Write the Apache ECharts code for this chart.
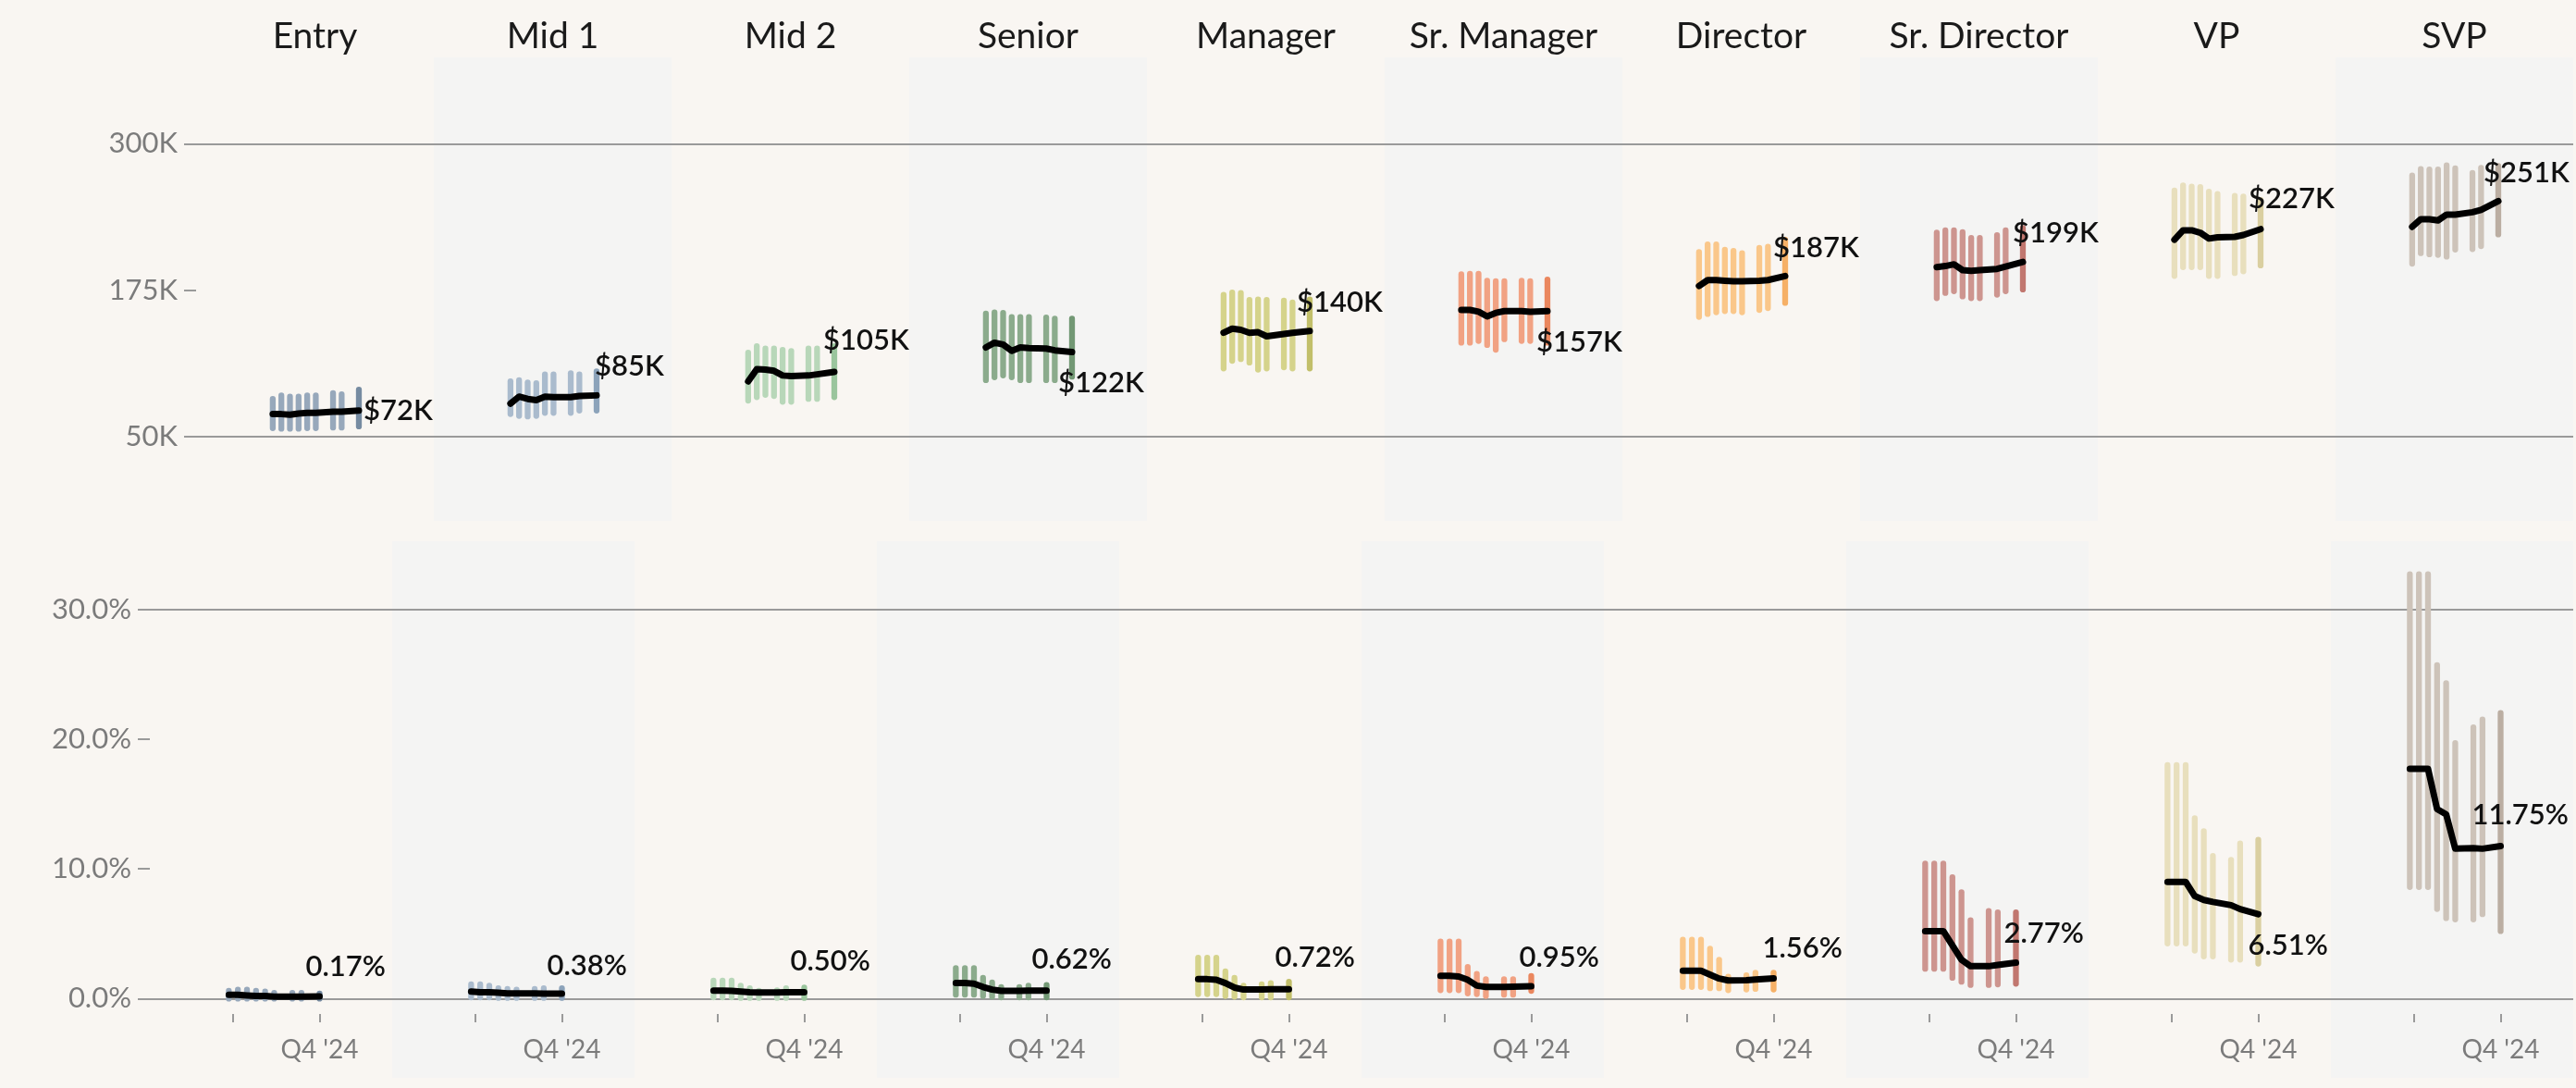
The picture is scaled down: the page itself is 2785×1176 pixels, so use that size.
<!DOCTYPE html>
<html>
<head>
<meta charset="utf-8">
<title>Pay and bonus ranges by level</title>
<script src="https://cdn.jsdelivr.net/npm/echarts@6/dist/echarts.min.js"></script>
<style>
  html, body { margin: 0; padding: 0; background: #f9f6f2; }
  #main { width: 2785px; height: 1176px; }
</style>
</head>
<body>
<div id="main"></div>
<script>
// ---- data ----
var levels = ['Entry', 'Mid 1', 'Mid 2', 'Senior', 'Manager', 'Sr. Manager', 'Director', 'Sr. Director', 'VP', 'SVP'];
// time slots inside each pane (slots 6 and 9 have no range bar)
var periods = [0, 1, 2, 3, 4, 5, 6, 7, 8, 9, 10];
var xTickSlots = [0.4, 10];
var xTickLabelSlots = [10];
var xTickLabel = "Q4 '24";

// base salary, thousands of dollars
var salaryHigh = [
  [82, 85, 84, 84, 85, 85, null, 87, 86, null, 90],
  [97, 98, 96, 95.5, 103, 103, null, 104, 103, null, 105.5],
  [121.5, 127, 125, 125, 124, 123, null, 125, 125, null, 127],
  [155, 156, 155.5, 152, 152, 152, null, 151.5, 150.5, null, 150.5],
  [171, 173, 172.5, 166.5, 167, 166.5, null, 166, 164.5, null, 167],
  [188.5, 189, 189, 183, 182.5, 182.5, null, 183, 182.5, null, 184],
  [207.5, 214, 214, 209.5, 208.5, 206.5, null, 211, 212, null, 218],
  [224, 226, 226, 224.5, 219.5, 219.5, null, 222, 226, null, 228],
  [260, 264.5, 263.5, 263, 259, 257, null, 255.5, 255, null, 252],
  [273, 278.5, 278, 278, 281.5, 279, null, 275, 279.5, null, 281]
];
var salaryLow = [
  [57, 56.5, 56.5, 56.5, 57, 57, null, 57.5, 57.5, null, 58.5],
  [69, 67.5, 67, 67.5, 70, 70, null, 70, 72, null, 72],
  [80.5, 83.5, 85.5, 84.5, 79.5, 79.5, null, 82, 82, null, 83.5],
  [98, 100.5, 102, 100.5, 98, 98, null, 98, 98, null, 101],
  [108, 114.5, 116, 113, 107, 108, null, 109, 108, null, 108],
  [130, 130, 131.5, 128, 124, 133, null, 131.5, 131.5, null, 130],
  [152, 154.5, 156, 157, 157, 156, null, 158, 159.5, null, 164],
  [168, 172.5, 174, 169.5, 168, 168, null, 171, 174, null, 175.5],
  [187, 194.5, 194.5, 194.5, 187, 187, null, 189.5, 191, null, 196],
  [197.5, 206.5, 205.5, 205, 203.5, 209.5, null, 210, 212.5, null, 222.5]
];
var salaryMedian = [
  [69, 69, 68.5, 69.5, 70, 70, null, 71, 71, null, 72],
  [78, 84, 82, 81, 84, 83.5, null, 83.5, 84.5, null, 85],
  [97, 107.5, 107, 106, 102, 101.5, null, 102, 103, null, 105],
  [126, 130, 128.5, 123, 126, 125.5, null, 125, 123.5, null, 122],
  [138.5, 142, 141, 138.5, 139, 135.5, null, 137.5, 138.5, null, 140],
  [158, 158, 156.5, 152.5, 155.5, 157, null, 157, 156.5, null, 157],
  [178.5, 183.5, 183.5, 183, 182.5, 182.5, null, 183, 183.5, null, 187],
  [194.5, 195.5, 197, 192, 191.5, 192, null, 193, 195, null, 199],
  [218, 226, 226, 224, 219, 220, null, 220.5, 222, null, 227],
  [229, 235.5, 235.5, 234.5, 239.5, 239.5, null, 241.5, 243.5, null, 251]
];

// bonus, percent
var bonusHigh = [
  [0.6, 0.7, 0.7, 0.6, 0.55, 0.45, null, 0.45, 0.45, null, 0.4],
  [1.1, 1.1, 1.0, 0.8, 0.75, 0.7, null, 0.75, 0.8, null, 0.8],
  [1.4, 1.4, 1.4, 1.0, 0.8, 0.6, null, 0.65, 0.8, null, 0.85],
  [2.35, 2.35, 2.35, 1.6, 1.25, 0.9, null, 0.9, 1.0, null, 1.05],
  [3.15, 3.15, 3.15, 2.1, 1.6, 1.0, null, 1.1, 1.2, null, 1.3],
  [4.4, 4.4, 4.4, 2.45, 1.9, 1.5, null, 1.5, 1.5, null, 1.75],
  [4.55, 4.55, 4.55, 3.85, 3.0, 1.7, null, 1.8, 2.0, null, 2.0],
  [10.4, 10.4, 10.4, 9.35, 8.2, 6.05, null, 6.75, 6.65, null, 6.65],
  [18.0, 18.0, 18.0, 13.9, 12.9, 11.0, null, 10.7, 11.95, null, 12.25],
  [32.7, 32.7, 32.7, 25.7, 24.3, 19.7, null, 20.9, 21.5, null, 22.0]
];
var bonusLow = [
  [0, 0, 0, 0, 0, 0, null, 0, 0, null, 0],
  [0.1, 0.1, 0.1, 0.05, 0.05, 0.05, null, 0.05, 0.05, null, 0.05],
  [0.1, 0.1, 0.1, 0.05, 0.05, 0.05, null, 0.05, 0.05, null, 0.05],
  [0.3, 0.3, 0.3, 0.2, 0.15, 0.1, null, 0.1, 0.1, null, 0.1],
  [0.35, 0.35, 0.35, 0.2, 0.15, 0.1, null, 0.1, 0.1, null, 0.1],
  [0.65, 0.65, 0.65, 0.4, 0.35, 0.2, null, 0.3, 0.3, null, 0.6],
  [0.9, 0.9, 0.9, 0.8, 0.8, 0.65, null, 0.7, 0.75, null, 0.7],
  [2.3, 2.3, 2.3, 1.6, 1.3, 1.05, null, 1.05, 1.1, null, 1.15],
  [4.25, 4.25, 4.25, 3.7, 3.25, 3.25, null, 3.0, 3.0, null, 2.7],
  [8.6, 8.6, 8.6, 6.9, 6.2, 6.1, null, 6.1, 6.5, null, 5.2]
];
var bonusMedian = [
  [0.3, 0.3, 0.25, 0.2, 0.2, 0.15, null, 0.15, 0.15, null, 0.17],
  [0.55, 0.5, 0.5, 0.45, 0.4, 0.4, null, 0.4, 0.38, null, 0.38],
  [0.62, 0.62, 0.6, 0.55, 0.5, 0.48, null, 0.48, 0.5, null, 0.5],
  [1.2, 1.2, 1.15, 0.9, 0.7, 0.6, null, 0.6, 0.62, null, 0.62],
  [1.5, 1.5, 1.45, 1.2, 0.85, 0.7, null, 0.7, 0.72, null, 0.72],
  [1.75, 1.75, 1.7, 1.45, 1.0, 0.9, null, 0.9, 0.92, null, 0.95],
  [2.15, 2.15, 2.15, 1.85, 1.55, 1.4, null, 1.42, 1.48, null, 1.56],
  [5.2, 5.2, 5.2, 4.1, 3.0, 2.5, null, 2.5, 2.6, null, 2.77],
  [9.0, 9.0, 9.0, 7.9, 7.6, 7.45, null, 7.2, 6.9, null, 6.51],
  [17.7, 17.7, 17.7, 14.6, 14.2, 11.55, null, 11.6, 11.55, null, 11.75]
];

var salaryTicks = [50, 175, 300];
var salaryGridlines = [50, 300];
var bonusTicks = [0, 10, 20, 30];
var bonusGridlines = [0, 30];

// ---- style ----
var FONT = 'Lato';
var BG = '#f9f6f2';
var SHADE = '#f4f4f3';
var GRIDLINE = '#9a9a9a';
var AXIS_TEXT = '#7b7b7b';
var barColor = ['#97a8bb', '#aabbcd', '#b8d7b9', '#8bab8c', '#d5d38b', '#f1a283', '#fac78a', '#cd958f', '#e8dfbd', '#cdc3b9'];
var lastBarColor = ['#768ba1', '#8ca3ba', '#9ac59d', '#729874', '#c2bf6a', '#ea875e', '#f6b066', '#c1776f', '#dacfa0', '#bbaea2'];
// end label placement [dx, dy] from the last point
var salaryLabelOffset = [[5, 0], [-2, -31], [-12, -34], [-15, 33], [-14, -31], [-12, 34], [-13, -30], [-11, -31], [-13, -33], [-16, -30]];
var bonusLabelOffset = [[-15, -32], [-16, -30], [-15, -33], [-16, -34], [-15, -34], [-13, -31], [-12, -33], [-13, -32], [-11, 34], [-31, -34]];

var TOP_LEFT = 212, BOT_LEFT = 162, RIGHT = 2782;
var topW = (RIGHT - TOP_LEFT) / 10;
var botW = (RIGHT - BOT_LEFT) / 10;

var chart = echarts.init(document.getElementById('main'));

var grids = [], xAxes = [], yAxes = [], series = [], titles = [];

function rangeData(low, high) {
  var out = [];
  periods.forEach(function (p, i) {
    if (high[i] != null) out.push([p, low[i], high[i]]);
  });
  return out;
}

function addPane(c, row) {
  var gi = grids.length;
  var isTop = row === 0;
  var shaded = c % 2 === 1;
  grids.push({
    left: (isTop ? TOP_LEFT + c * topW : BOT_LEFT + c * botW),
    top: isTop ? 62 : 585,
    width: isTop ? topW : botW,
    height: isTop ? 501 : 580,
    show: shaded,
    backgroundColor: SHADE,
    borderWidth: 0
  });

  if (isTop) {
    xAxes.push({ gridIndex: gi, type: 'value', min: -8.9, max: 18.7, show: false });
  } else {
    xAxes.push({
      gridIndex: gi, type: 'value', min: -8.7, max: 18.0,
      position: 'bottom', offset: -69,
      axisLine: { show: false, onZero: false },
      axisTick: { show: true, customValues: xTickSlots, length: 9, lineStyle: { color: GRIDLINE, width: 2 } },
      axisLabel: {
        show: true, customValues: xTickLabelSlots, margin: 25,
        formatter: function () { return xTickLabel; },
        fontFamily: FONT, fontSize: 28, color: AXIS_TEXT
      },
      splitLine: { show: false }
    });
  }

  var ticks = isTop ? salaryTicks : bonusTicks;
  yAxes.push({
    gridIndex: gi, type: 'value',
    min: isTop ? -22.2 : -6.1,
    max: isTop ? 373.8 : 35.24,
    show: c === 0,
    axisLine: { show: false, onZero: false },
    axisTick: { show: true, inside: false, customValues: ticks, length: 13, lineStyle: { color: GRIDLINE, width: 2 } },
    axisLabel: {
      show: true, customValues: ticks, margin: 20,
      fontFamily: FONT, fontSize: 31, color: AXIS_TEXT,
      formatter: isTop ? function (v) { return v + 'K'; } : function (v) { return v.toFixed(1) + '%'; }
    },
    splitLine: { show: false }
  });

  var low = isTop ? salaryLow[c] : bonusLow[c];
  var high = isTop ? salaryHigh[c] : bonusHigh[c];
  var med = isTop ? salaryMedian[c] : bonusMedian[c];
  var lastSlot = periods[periods.length - 1];

  series.push({
    type: 'custom', xAxisIndex: gi, yAxisIndex: gi, z: 2, silent: true,
    data: rangeData(low, high),
    renderItem: function (params, api) {
      var x = api.value(0);
      var a = api.coord([x, api.value(1)]);
      var b = api.coord([x, api.value(2)]);
      return {
        type: 'line',
        shape: { x1: a[0], y1: a[1], x2: b[0], y2: b[1] },
        style: { stroke: x === lastSlot ? lastBarColor[c] : barColor[c], lineWidth: 6.3, lineCap: 'round' }
      };
    }
  });

  var off = isTop ? salaryLabelOffset[c] : bonusLabelOffset[c];
  series.push({
    type: 'line', xAxisIndex: gi, yAxisIndex: gi, z: 3, silent: true,
    connectNulls: true, symbol: 'none',
    data: periods.map(function (p, i) { return [p, med[i]]; }),
    lineStyle: { color: '#000', width: 7, cap: 'round', join: 'round' },
    endLabel: {
      show: true, distance: 0, offset: off, align: 'left', verticalAlign: 'middle',
      fontFamily: FONT, fontSize: 31, fontWeight: 600, color: '#111',
      formatter: isTop
        ? function (p) { return '$' + p.value[1] + 'K'; }
        : function (p) { return p.value[1].toFixed(2) + '%'; }
    },
    markLine: {
      silent: true, symbol: 'none', z: 1, animation: false,
      label: { show: false },
      lineStyle: { color: GRIDLINE, width: 2, type: 'solid' },
      data: (isTop ? salaryGridlines : bonusGridlines).map(function (v) { return { yAxis: v }; })
    }
  });
}

levels.forEach(function (name, c) {
  addPane(c, 0);
  addPane(c, 1);
  titles.push({
    type: 'text',
    x: TOP_LEFT + (c + 0.5) * topW,
    y: 39,
    style: { text: name, fontFamily: FONT, fontSize: 39, fill: '#1a1a1a', align: 'center', verticalAlign: 'middle' }
  });
});

chart.setOption({
  backgroundColor: BG,
  animation: false,
  grid: grids,
  xAxis: xAxes,
  yAxis: yAxes,
  series: series,
  graphic: titles
});
</script>
</body>
</html>
